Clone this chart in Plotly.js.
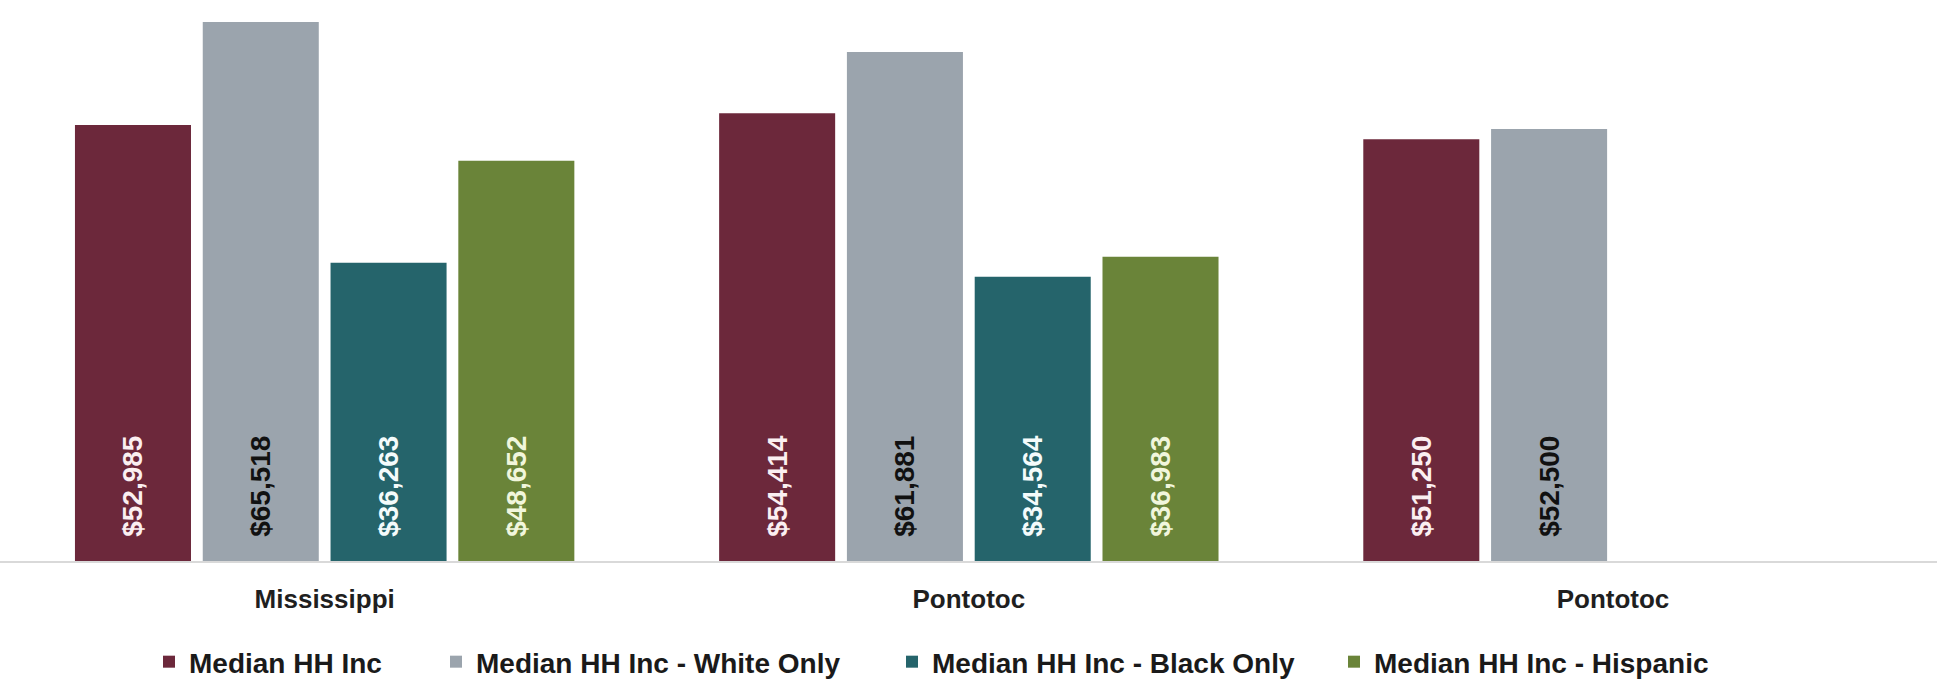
<!DOCTYPE html>
<html>
<head>
<meta charset="utf-8">
<script src="https://cdn.plot.ly/plotly-3.0.1.min.js"></script>
<style>html,body{margin:0;padding:0;background:#fff;}#chart{width:1937px;height:680px;}</style>
</head>
<body>
<div id="chart"></div>
<script>
const categories = ['Mississippi', 'Pontotoc', 'Pontotoc'];
const seriesNames = ['Median HH Inc', 'Median HH Inc - White Only', 'Median HH Inc - Black Only', 'Median HH Inc - Hispanic'];
const medianAll = [52985, 54414, 51250];
const medianWhite = [65518, 61881, 52500];
const medianBlack = [36263, 34564, null];
const medianHispanic = [48652, 36983, null];

const seriesValues = [medianAll, medianWhite, medianBlack, medianHispanic];
const colors = ['#6C283B', '#9BA4AD', '#25646B', '#6A8439'];
const labelColors = ['#fbeff1', '#111111', '#f4fbfb', '#f1f6dc'];
const legendX = [149, 436, 892, 1334];

const xs = categories.map((c, i) => i);
const FONT = 'Liberation Sans, Arial, sans-serif';

const traces = seriesValues.map((vals, i) => ({
  type: 'bar',
  name: seriesNames[i],
  x: xs,
  y: vals,
  marker: {color: colors[i]},
  texttemplate: '\u00a0\u00a0\u2009$%{y:,}',
  textposition: 'inside',
  insidetextanchor: 'start',
  textangle: -90,
  insidetextfont: {family: FONT, size: 28, color: labelColors[i], weight: 'bold'},
  legend: i === 0 ? 'legend' : 'legend' + (i + 1),
  hoverinfo: 'skip'
}));

const legendBase = (i) => ({
  orientation: 'h',
  x: legendX[i] / 1937,
  xanchor: 'left',
  y: -0.18,
  yanchor: 'middle',
  font: {family: FONT, size: 28, color: '#1a1a1a', weight: 'bold'},
  bgcolor: 'rgba(0,0,0,0)',
  borderwidth: 0
});

const layout = {
  width: 1937,
  height: 680,
  margin: {l: 0, r: 0, t: 0, b: 119, autoexpand: false},
  paper_bgcolor: '#ffffff',
  plot_bgcolor: '#ffffff',
  barmode: 'group',
  bargap: 0.2065,
  bargroupgap: 0.092,
  showlegend: true,
  legend: legendBase(0),
  legend2: legendBase(1),
  legend3: legendBase(2),
  legend4: legendBase(3),
  xaxis: {
    range: [-0.504, 2.503],
    tickvals: xs,
    ticktext: categories,
    ticks: '',
    showline: true,
    linecolor: '#d9d9d9',
    linewidth: 2,
    showgrid: false,
    zeroline: false,
    ticklabelstandoff: 14,
    tickfont: {family: FONT, size: 26, color: '#1f1f1f', weight: 'bold'}
  },
  yaxis: {
    range: [0, 68190],
    visible: false,
    showgrid: false,
    zeroline: false
  }
};

Plotly.newPlot('chart', traces, layout, {staticPlot: true, displayModeBar: false});
</script>
</body>
</html>
